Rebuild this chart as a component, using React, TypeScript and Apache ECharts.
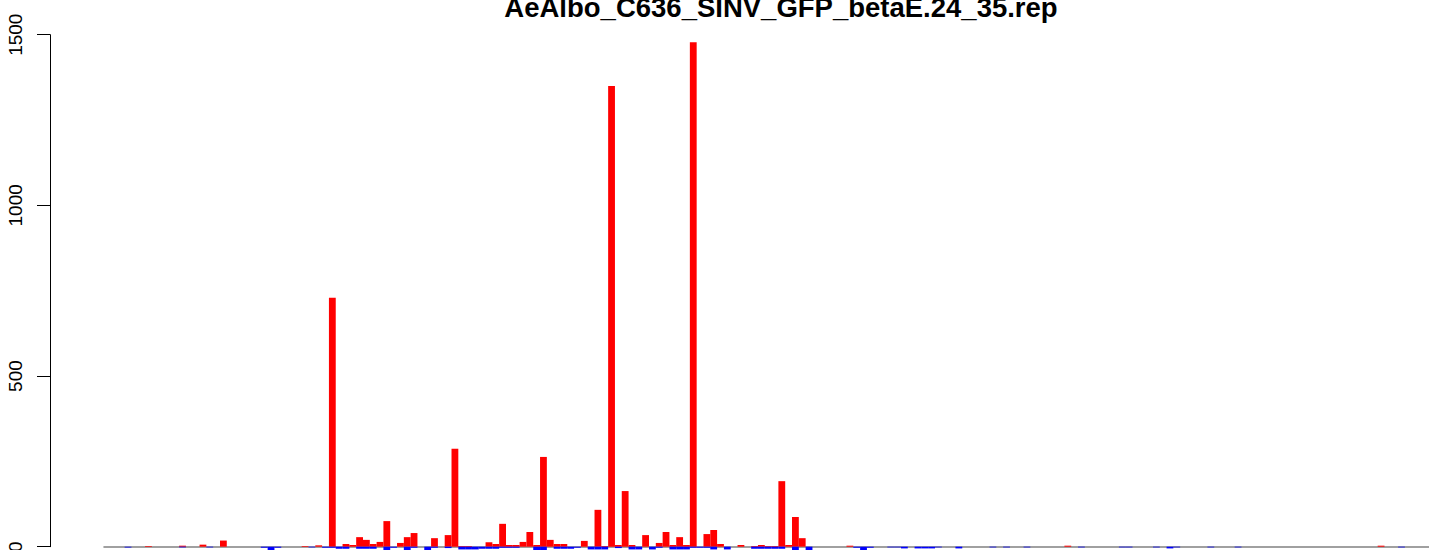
import React, { useEffect, useRef } from "react";
import * as echarts from "echarts";

const TITLE = "AeAlbo_C636_SINV_GFP_betaE.24_35.rep";
const N_POSITIONS = 195;
const Y_TICKS = [0, 500, 1000, 1500];

// plus-strand counts (red, upward)
const plusPos = [6, 11, 14, 17, 29, 31, 33, 35, 36, 37, 38, 39, 40, 41, 43, 44, 45, 48, 50, 51, 52, 53, 56, 57, 58, 59, 60, 61, 62, 63, 64, 65, 66, 67, 70, 72, 73, 74, 75, 76, 77, 79, 81, 82, 83, 84, 85, 86, 88, 89, 90, 93, 95, 96, 97, 98, 99, 100, 101, 102, 109, 141, 187];
const plusVal = [2, 3, 6, 18, 2, 4, 729, 8, 5, 28, 20, 8, 14, 75, 11, 28, 40, 25, 34, 287, 2, 2, 13, 8, 67, 5, 5, 14, 43, 5, 263, 20, 8, 8, 17, 108, 2, 1350, 5, 163, 5, 34, 11, 43, 5, 28, 5, 1478, 37, 49, 8, 5, 2, 5, 2, 2, 192, 5, 87, 25, 3, 3, 3];

// minus-strand counts (blue, downward)
const minusPos = [3, 11, 15, 23, 24, 25, 30, 32, 33, 34, 35, 37, 38, 39, 41, 42, 44, 45, 47, 48, 50, 52, 53, 54, 55, 56, 57, 58, 59, 60, 63, 64, 66, 67, 68, 69, 71, 72, 73, 75, 77, 78, 80, 81, 83, 84, 85, 86, 87, 88, 89, 91, 95, 96, 97, 98, 99, 101, 103, 110, 111, 112, 115, 116, 117, 119, 120, 121, 122, 125, 130, 132, 135, 143, 149, 150, 154, 156, 157, 162, 166, 190];
const minusVal = [-2, -2, -2, -3, -15, -3, -2, -3, -3, -6, -6, -6, -6, -6, -12, -3, -12, -3, -12, -3, -4, -8, -8, -8, -6, -6, -6, -3, -3, -3, -12, -12, -6, -6, -6, -3, -8, -8, -8, -4, -8, -8, -8, -3, -8, -8, -8, -3, -3, -3, -8, -8, -6, -6, -6, -6, -6, -12, -12, -3, -12, -3, -2, -2, -5, -5, -5, -5, -2, -5, -2, -2, -2, -2, -2, -2, -2, -5, -2, -2, -2, -2];

function buildSeries(pos: number[], val: number[]) {
  const arr: (number | string)[] = [];
  for (let i = 0; i < N_POSITIONS; i++) arr.push("-");
  pos.forEach((p, i) => {
    arr[p] = val[i];
  });
  return arr;
}

export default function App() {
  const ref = useRef<HTMLDivElement>(null);
  useEffect(() => {
    if (!ref.current) return;
    const chart = echarts.init(ref.current, undefined, { renderer: "svg" });
    const categories: string[] = [];
    for (let i = 0; i < N_POSITIONS; i++) categories.push(String(i + 1));
    const font = "'Liberation Sans', Arial, Helvetica, sans-serif";
    chart.setOption({
      animation: false,
      backgroundColor: "#ffffff",
      grid: {
        left: 104.2,
        right: -3.15,
        top: 34.7,
        bottom: 3.3,
        containLabel: false,
        outerBoundsMode: "none",
      },
      graphic: [
        {
          type: "text",
          x: 781,
          y: 7.5,
          style: {
            text: TITLE,
            fill: "#000",
            font: `bold 27.5px ${font}`,
            textAlign: "center",
            textVerticalAlign: "middle",
          },
        },
      ],
      xAxis: {
        type: "category",
        data: categories,
        boundaryGap: true,
        axisLine: { show: true, onZero: true, lineStyle: { color: "#a0a0a0", width: 2 } },
        axisTick: { show: false },
        axisLabel: { show: false },
        splitLine: { show: false },
      },
      yAxis: {
        type: "value",
        min: Y_TICKS[0],
        max: Y_TICKS[Y_TICKS.length - 1],
        interval: 500,
        offset: 54.2,
        axisLine: { show: true, lineStyle: { color: "#000", width: 1 } },
        axisTick: { show: true, length: 13, lineStyle: { color: "#000", width: 1 } },
        axisLabel: {
          show: true,
          rotate: 90,
          margin: 25,
          color: "#000",
          fontSize: 19,
          fontFamily: font,
          formatter: (v: number) => String(v),
        },
        splitLine: { show: false },
      },
      series: [
        {
          type: "bar",
          name: "plus",
          data: buildSeries(plusPos, plusVal),
          barWidth: "100%",
          barGap: "-100%",
          barCategoryGap: "0%",
          clip: false,
          itemStyle: { color: "#ff0000" },
          z: 3,
        },
        {
          type: "bar",
          name: "minus",
          data: buildSeries(minusPos, minusVal),
          barWidth: "100%",
          barGap: "-100%",
          barCategoryGap: "0%",
          clip: false,
          itemStyle: { color: "#0000ff" },
          z: 3,
        },
      ],
    });
    return () => chart.dispose();
  }, []);
  return (
    <div
      ref={ref}
      style={{ position: "fixed", left: 0, top: 0, width: 1429, height: 550, background: "#fff" }}
    />
  );
}
